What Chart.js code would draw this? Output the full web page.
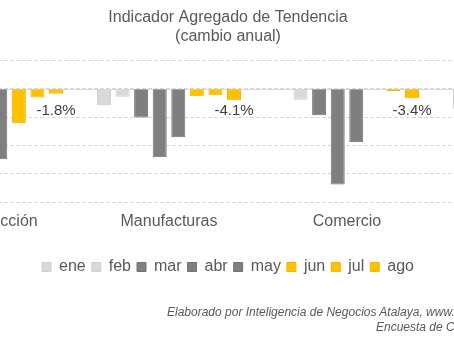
<!DOCTYPE html>
<html>
<head>
<meta charset="utf-8">
<script src="https://cdn.jsdelivr.net/npm/chart.js@4/dist/chart.umd.min.js"></script>
<style>
  html, body { margin: 0; padding: 0; background: #fff; overflow: hidden; width: 454px; height: 341px; position: relative; }
  #chart { position: absolute; left: -170px; top: 0; }
  .nota { position: absolute; white-space: nowrap; font: italic 12px "Liberation Sans", Arial, sans-serif; color: #595959; }
</style>
</head>
<body>
<canvas id="chart" width="796" height="341"></canvas>
<div class="nota" style="left:167px; top:305px;">Elaborado por Inteligencia de Negocios Atalaya, www.</div>
<div class="nota" style="left:376px; top:320px;">Encuesta de C</div>
<script>
// Sectores y cambio anual (%) por mes
const sectores = ['Construcción', 'Manufacturas', 'Comercio', 'Servicios'];
const meses = ['ene', 'feb', 'mar', 'abr', 'may', 'jun', 'jul', 'ago'];

const ene = [-2.6, -5.8, -0.4, -7.1];
const feb = [-3.3, -2.8, -3.9, -5.5];
const mar = [-9.0, -10.2, -9.4, -12.0];
const abr = [-28.5, -24.2, -33.8, -30.1];
const may = [-24.9, -17.1, -18.9, -22.4];
const jun = [-12.2, -2.7, 0.0, -8.6];
const jul = [-3.1, -2.3, -0.8, -5.2];
const ago = [-1.8, -4.1, -3.4, -4.0];

const yTicks = [10, 0, -10, -20, -30, -40];

const serie = [ene, feb, mar, abr, may, jun, jul, ago];
const claro = '#d9d9d9', oscuro = '#7f7f7f', amarillo = '#ffc000';
const colores = [claro, claro, oscuro, oscuro, oscuro, amarillo, amarillo, amarillo];
const bordes = ['#cfcfcf', '#cfcfcf', '#727272', '#727272', '#727272', '#f2b600', '#f2b600', '#f2b600'];

const fuente = '"Liberation Sans", Arial, sans-serif';

// linea solida en el cero
const lineaCero = {
    id: 'lineaCero',
    beforeDatasetsDraw(chart) {
        const { ctx, chartArea, scales } = chart;
        const y = Math.round(scales.y.getPixelForValue(0)) + 0.5;
        ctx.save();
        ctx.strokeStyle = '#d9d9d9';
        ctx.lineWidth = 1;
        ctx.beginPath();
        ctx.moveTo(chartArea.left, y);
        ctx.lineTo(chartArea.right, y);
        ctx.stroke();
        ctx.restore();
    }
};

// etiquetas del ultimo mes bajo sus barras
const etiquetas = {
    id: 'etiquetas',
    afterDatasetsDraw(chart) {
        const { ctx, scales } = chart;
        const idx = serie.length - 1;
        const meta = chart.getDatasetMeta(idx);
        const y = scales.y.getPixelForValue(0) + 22;
        ctx.save();
        ctx.font = '15px ' + fuente;
        ctx.fillStyle = '#404040';
        ctx.textAlign = 'center';
        ctx.textBaseline = 'middle';
        meta.data.forEach((bar, i) => {
            ctx.fillText(serie[idx][i].toFixed(1) + '%', bar.x, y);
        });
        ctx.restore();
    }
};

const ctx = document.getElementById('chart').getContext('2d');
const chart = new Chart(ctx, {
    type: 'bar',
    data: {
        labels: sectores,
        datasets: meses.map((m, i) => ({
            label: m,
            data: serie[i],
            backgroundColor: colores[i],
            borderColor: bordes[i],
            borderWidth: 1,
            categoryPercentage: 0.835,
            barPercentage: 0.754
        }))
    },
    options: {
        responsive: false,
        animation: false,
        layout: {
            padding: { left: 12, right: 12, top: 0, bottom: 56 }
        },
        plugins: {
            title: {
                display: true,
                text: ['Indicador Agregado de Tendencia', '(cambio anual)'],
                color: '#595959',
                font: { family: fuente, size: 16, weight: 'normal', lineHeight: 1.2 },
                padding: { top: 8, bottom: 14 }
            },
            legend: {
                position: 'bottom',
                labels: {
                    boxWidth: 9,
                    boxHeight: 9,
                    padding: 6,
                    color: '#595959',
                    font: { family: fuente, size: 16 }
                }
            },
            tooltip: { enabled: false }
        },
        scales: {
            x: {
                grid: { display: false, drawTicks: false },
                border: { display: false },
                ticks: {
                    color: '#595959',
                    padding: 10,
                    maxRotation: 0,
                    font: { family: fuente, size: 16 }
                },
                afterFit(scale) { scale.height = 51; }
            },
            y: {
                min: -40,
                max: 10,
                afterBuildTicks(scale) { scale.ticks = yTicks.map(v => ({ value: v })); },
                grid: { color: '#d9d9d9', drawTicks: false },
                border: { display: false, dash: [4, 2] },
                ticks: {
                    color: '#595959',
                    font: { family: fuente, size: 12 },
                    callback: v => v + '%'
                },
                afterFit(scale) { scale.width = 60; }
            }
        }
    },
    plugins: [lineaCero, etiquetas]
});
</script>
</body>
</html>
